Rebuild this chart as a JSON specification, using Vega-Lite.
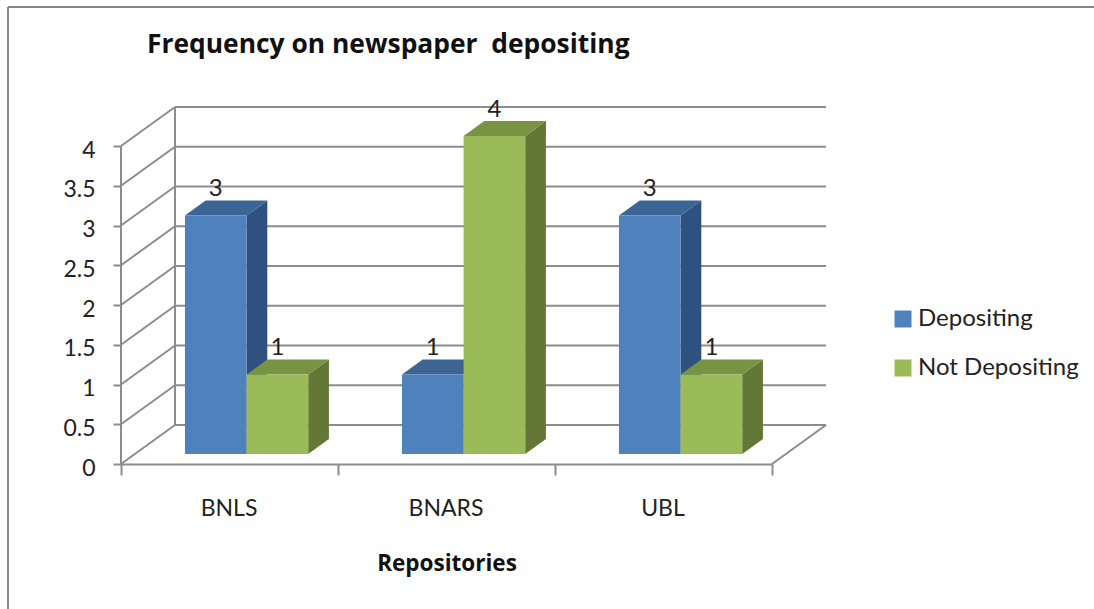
{
"$schema":"https://vega.github.io/schema/vega-lite/v6.json",
"width":705,"height":357,
"autosize":{"type":"none"},
"padding":{"left":121,"top":107,"right":268,"bottom":145},
"background":"white",
"config":{"view":{"stroke":null},"font":"Lato"},
"title":{"text":"Frequency on newspaper\u00a0 depositing","anchor":"start","frame":"group","dx":26,"offset":-52,"fontSize":26.4,"fontWeight":"bold","font":"Open Sans","color":"#111111"},
"datasets":{
"bars":[
{"repo":"BNLS","series":"Depositing","value":3},
{"repo":"BNARS","series":"Depositing","value":1},
{"repo":"UBL","series":"Depositing","value":3},
{"repo":"BNLS","series":"Not Depositing","value":1},
{"repo":"BNARS","series":"Not Depositing","value":4},
{"repo":"UBL","series":"Not Depositing","value":1}],
"ticks":[{"tick":0},{"tick":0.5},{"tick":1},{"tick":1.5},{"tick":2},{"tick":2.5},{"tick":3},{"tick":3.5},{"tick":4}],
"wire":[
{"a":0,"b":0,"a2":0,"b2":4},
{"a":0.2488,"b":0.4906,"a2":0.2488,"b2":4.4906},
{"a":3,"b":0,"a2":3.2488,"b2":0.4906}],
"frame":[{"a":-0.5207,"a2":-0.5207,"b":-1.96,"b2":5.748},{"a":-0.5207,"a2":4.484,"b":5.748,"b2":5.748}],
"repos":[{"repo":"BNLS"},{"repo":"BNARS"},{"repo":"UBL"}]
},
"resolve":{"scale":{"x":"independent"}},
"layer":[
{"layer":[
{"data":{"name":"frame"},
 "mark":{"type":"rule","color":"#868686","strokeWidth":2},
 "encoding":{"x":{"field":"a","type":"quantitative","scale":{"domain":[0,3.2488],"nice":false,"zero":false},"axis":null},"x2":{"field":"a2"},
 "y":{"field":"b","type":"quantitative","scale":{"domain":[0,4.4906],"nice":false},"axis":{"values":[0,0.5,1,1.5,2,2.5,3,3.5,4],"format":"~g","title":null,"grid":false,"domain":false,"tickSize":8,"tickWidth":2,"tickColor":"#8c8c8c","labelFontSize":23,"labelFont":"Lato","labelColor":"#222222","labelPadding":18,"labelOffset":4}},"y2":{"field":"b2"}}},
{"data":{"name":"ticks"},
 "transform":[{"calculate":"0","as":"a"},{"calculate":"0.2488","as":"a2"},{"calculate":"datum.tick","as":"b"},{"calculate":"datum.tick+0.4906","as":"b2"}],
 "mark":{"type":"rule","color":"#8c8c8c","strokeWidth":2},
 "encoding":{"x":{"field":"a","type":"quantitative","axis":null},"x2":{"field":"a2"},"y":{"field":"b","type":"quantitative"},"y2":{"field":"b2"}}},
{"data":{"name":"ticks"},
 "transform":[{"calculate":"0.2488","as":"a"},{"calculate":"3.2488","as":"a2"},{"calculate":"datum.tick+0.4906","as":"b"},{"calculate":"datum.tick+0.4906","as":"b2"}],
 "mark":{"type":"rule","color":"#8c8c8c","strokeWidth":2},
 "encoding":{"x":{"field":"a","type":"quantitative","axis":null},"x2":{"field":"a2"},"y":{"field":"b","type":"quantitative"},"y2":{"field":"b2"}}},
{"data":{"name":"wire"},
 "mark":{"type":"rule","color":"#8c8c8c","strokeWidth":2},
 "encoding":{"x":{"field":"a","type":"quantitative","axis":null},"x2":{"field":"a2"},"y":{"field":"b","type":"quantitative"},"y2":{"field":"b2"}}},
{"data":{"name":"bars"},
 "transform":[
 {"calculate":"indexof(['BNLS','BNARS','UBL'],datum.repo)+0.231+(datum.series=='Depositing'?0:0.284)+0.0637","as":"xf"},
 {"calculate":"datum.xf+0.284","as":"xr"},
 {"calculate":"0.1256","as":"yb"},
 {"calculate":"datum.value+0.1256","as":"yt"},
 {"calculate":"[0,1]","as":"k2"},
 {"calculate":"[0,1,2,3]","as":"k4"}],
 "layer":[
 {"transform":[{"filter":"datum.series=='Depositing'"},{"flatten":["k2"]},{"calculate":"datum.xr+datum.k2*0.0955","as":"a"},{"calculate":"datum.yb+datum.k2*0.188","as":"b"},{"calculate":"datum.yt+datum.k2*0.188","as":"b2"}],
  "mark":{"type":"area","orient":"vertical","color":"#2f5180"},
  "encoding":{"detail":{"field":"repo"},"x":{"field":"a","type":"quantitative","axis":null},"y":{"field":"b","type":"quantitative"},"y2":{"field":"b2"}}},
 {"transform":[{"filter":"datum.series=='Depositing'"},{"flatten":["k4"]},{"calculate":"[datum.xf,datum.xf+0.0955,datum.xr,datum.xr+0.0955][datum.k4]","as":"a"},{"calculate":"datum.yt+(datum.k4==3?0.188:0)","as":"b"},{"calculate":"datum.yt+(datum.k4==0?0:0.188)","as":"b2"}],
  "mark":{"type":"area","orient":"vertical","color":"#3c6494"},
  "encoding":{"detail":{"field":"repo"},"x":{"field":"a","type":"quantitative","axis":null},"y":{"field":"b","type":"quantitative"},"y2":{"field":"b2"}}},
 {"transform":[{"filter":"datum.series!='Depositing'"},{"flatten":["k2"]},{"calculate":"datum.xr+datum.k2*0.0955","as":"a"},{"calculate":"datum.yb+datum.k2*0.188","as":"b"},{"calculate":"datum.yt+datum.k2*0.188","as":"b2"}],
  "mark":{"type":"area","orient":"vertical","color":"#637837"},
  "encoding":{"detail":{"field":"repo"},"x":{"field":"a","type":"quantitative","axis":null},"y":{"field":"b","type":"quantitative"},"y2":{"field":"b2"}}},
 {"transform":[{"filter":"datum.series!='Depositing'"},{"flatten":["k4"]},{"calculate":"[datum.xf,datum.xf+0.0955,datum.xr,datum.xr+0.0955][datum.k4]","as":"a"},{"calculate":"datum.yt+(datum.k4==3?0.188:0)","as":"b"},{"calculate":"datum.yt+(datum.k4==0?0:0.188)","as":"b2"}],
  "mark":{"type":"area","orient":"vertical","color":"#789341"},
  "encoding":{"detail":{"field":"repo"},"x":{"field":"a","type":"quantitative","axis":null},"y":{"field":"b","type":"quantitative"},"y2":{"field":"b2"}}},
 {"mark":{"type":"rect"},
  "encoding":{"x":{"field":"xf","type":"quantitative","axis":null},"x2":{"field":"xr"},"y":{"field":"yb","type":"quantitative"},"y2":{"field":"yt"},
  "color":{"field":"series","type":"nominal","scale":{"domain":["Depositing","Not Depositing"],"range":["#4f81bd","#9bbb59"]},
  "legend":{"orient":"none","legendX":770,"legendY":200,"title":null,"symbolType":"square","symbolSize":289,"symbolStrokeWidth":0,"labelFontSize":24,"labelLimit":320,"labelFont":"Lato","labelColor":"#222222","rowPadding":25,"labelOffset":3}}}},
 {"transform":[{"calculate":"datum.xf+0.142","as":"a"},{"calculate":"datum.yt+0.33","as":"b"}],
  "mark":{"type":"text","fontSize":24,"font":"Lato","color":"#222222","baseline":"middle"},
  "encoding":{"x":{"field":"a","type":"quantitative","axis":null},"y":{"field":"b","type":"quantitative"},"text":{"field":"value","type":"quantitative"}}}
 ]}
]},
{"data":{"name":"repos"},
 "mark":{"type":"tick","opacity":0},
 "encoding":{"x":{"field":"repo","type":"nominal","sort":["BNLS","BNARS","UBL"],"scale":{"range":[0,651],"paddingInner":0,"paddingOuter":0},
 "axis":{"title":"Repositories","titleFontSize":22.5,"titleFontWeight":"bold","titleFont":"Open Sans","titleColor":"#111111","titlePadding":32,"labelAngle":0,"labelFontSize":23,"labelFont":"Lato","labelColor":"#222222","labelPadding":22,"labelOffset":-1,"tickBand":"extent","tickSize":11,"tickWidth":2,"tickColor":"#8c8c8c","domainColor":"#8c8c8c","domainWidth":2}}}}
]
}
